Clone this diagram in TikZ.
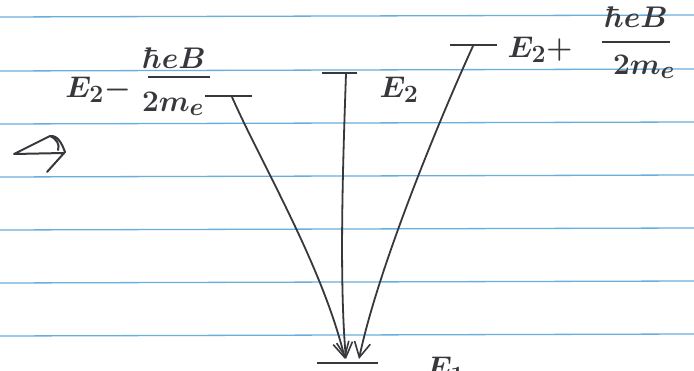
\documentclass[tikz,border=0pt]{standalone}
\usetikzlibrary{arrows.meta}
\definecolor{rule}{RGB}{105,175,222}
\definecolor{ink}{RGB}{55,55,60}
\begin{document}
\begin{tikzpicture}[x=1pt,y=-1pt,
  ruled/.style={draw=rule,line width=1.3pt},
  level/.style={draw=ink,line width=2pt},
  trans/.style={draw=ink,line width=1.8pt,-{Straight Barb[length=15pt,width=16pt,line width=1.6pt]}},
  lab/.style={text=ink,inner sep=0pt,font=\Huge\boldmath,scale=1.2}]
\useasboundingbox[fill=white] (0,0) rectangle (694,371);
% ruled paper lines
\foreach \y in {17,71,124,177,230,283,336}
  \draw[ruled] (0,\y) -- (694,\y-2);
% energy levels
\draw[level] (205,96) -- (252,96);
\draw[level] (322,73) -- (357,73);
\draw[level] (450,45) -- (497,45);
\draw[level] (317,363) -- (378,363);
\coordinate (sL) at (232,97);
\coordinate (sM) at (346,74);
\coordinate (sR) at (473,46);
\coordinate (eL) at (345,359);
\coordinate (eM) at (346,359);
\coordinate (eR) at (359,359);
% labels
\node[lab] (lE) at (98,90) {$E_2-$};
\node[lab] (lnum) at (174,58) {$\hbar eB$};
\draw[level,line width=1.6pt] (148,77) -- (210,77);
\node[lab] (lden) at (173,104) {$2m_e$};
\node[lab] (mE) at (399,90) {$E_2$};
\node[lab] (rE) at (540,50) {$E_2+$};
\node[lab] (rnum) at (636,17) {$\hbar eB$};
\draw[level,line width=1.6pt] (602,42) -- (670,42);
\node[lab] (rden) at (644,67) {$2m_e$};
\node[lab,anchor=base west] (bE) at (426,378) {$E_1$};
% transitions
\draw[trans] (sL) .. controls (262,165) and (322,265) .. (eL);
\draw[trans] (sM) .. controls (343,160) and (339,280) .. (eM);
\draw[trans] (sR) .. controls (440,118) and (378,268) .. (eR);
% hand-drawn arrow sign at left
\draw[ink,line width=2pt,line join=round,line cap=round]
  (14,154) -- (64,153)
  (14,154) -- (50,136) .. controls (58,135) and (62,144) .. (65,152) -- (47,172)
  (50,136) .. controls (57,139) and (60,145) .. (58,150);
\end{tikzpicture}
\end{document}
